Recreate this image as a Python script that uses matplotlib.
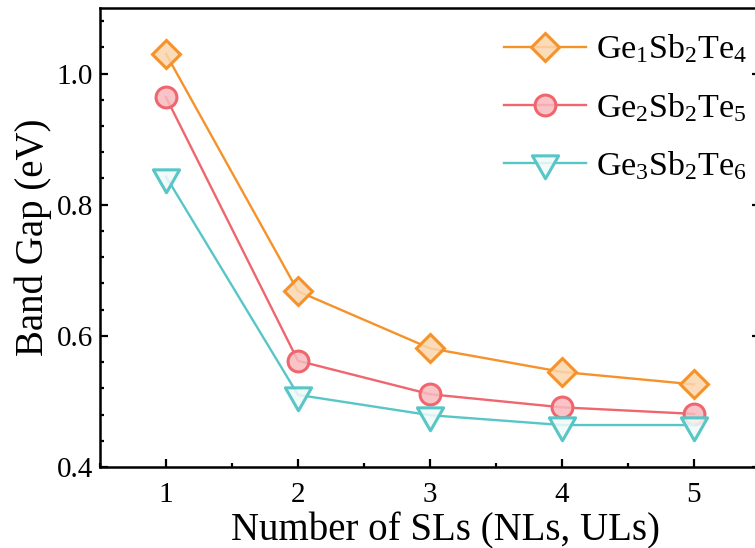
import matplotlib
matplotlib.use("Agg")
import matplotlib.pyplot as plt
from matplotlib.path import Path
from matplotlib.ticker import MultipleLocator
from matplotlib.colors import to_rgb

# Band gap vs. number of stacked layers
layers = [1, 2, 3, 4, 5]
gst124 = [1.03, 0.668, 0.581, 0.545, 0.526]
gst225 = [0.964, 0.562, 0.511, 0.491, 0.481]
gst326 = [0.843, 0.510, 0.479, 0.464, 0.464]

series_labels = [r"Ge$_1$Sb$_2$Te$_4$", r"Ge$_2$Sb$_2$Te$_5$", r"Ge$_3$Sb$_2$Te$_6$"]
x_ticks = [1, 2, 3, 4, 5]
y_ticks = [0.4, 0.6, 0.8, 1.0]

plt.rcParams["font.family"] = ["Liberation Serif", "DejaVu Serif"]
plt.rcParams["mathtext.default"] = "regular"

# down-pointing triangle whose centroid sits on the data point
h = 1.75
tri_down = Path([(-1, h / 3), (1, h / 3), (0, -2 * h / 3), (-1, h / 3)],
                [Path.MOVETO, Path.LINETO, Path.LINETO, Path.CLOSEPOLY])


def face(color, strength, alpha=0.85):
    r, g, b = to_rgb(color)
    return (1 - strength * (1 - r), 1 - strength * (1 - g), 1 - strength * (1 - b), alpha)


orange = "#F5922A"
red = "#F0666E"
cyan = "#58C6C6"

styles = [
    dict(color=orange, marker="D", ms=14.5, mfc=face(orange, 0.38)),
    dict(color=red, marker="o", ms=15, mfc=face(red, 0.45)),
    dict(color=cyan, marker=tri_down, ms=22, mfc=face(cyan, 0.08)),
]

fig = plt.figure(figsize=(7.55, 5.48), dpi=100)
ax = fig.add_axes([100 / 755, 1 - 467 / 548, 660 / 755, 459 / 548])

for vals, lab, st in zip([gst124, gst225, gst326], series_labels, styles):
    ax.plot(layers, vals, color=st["color"], lw=1.7, marker=st["marker"],
            ms=st["ms"], mfc=st["mfc"], mec=st["color"], mew=2.2, label=lab)

ax.set_xlim(0.5, 5.5)
ax.set_ylim(0.4, 1.1)
ax.set_xticks(x_ticks)
ax.set_yticks(y_ticks)
ax.set_yticklabels([f"{v:.1f}" for v in y_ticks])
ax.xaxis.set_minor_locator(MultipleLocator(0.5))
ax.yaxis.set_minor_locator(MultipleLocator(0.04))

for s in ax.spines.values():
    s.set_linewidth(1.8)

ax.tick_params(which="both", direction="in", top=False, right=True, width=1.6)
ax.tick_params(which="major", length=6, labelsize=21)
ax.tick_params(axis="x", which="major", pad=11)
ax.tick_params(axis="y", which="major", pad=5)
ax.tick_params(which="minor", length=3)

ax.set_xlabel("Number of SLs (NLs, ULs)", fontsize=28)
ax.set_ylabel("Band Gap (eV)", fontsize=28)
ax.xaxis.set_label_coords(0.524, -0.098)
ax.yaxis.set_label_coords(-0.072, 0.5)

ax.legend(loc="upper left", bbox_to_anchor=((487 - 100) / 660, 0.983),
          frameon=False, fontsize=24.5, handlelength=2.4, handletextpad=0.3,
          labelspacing=0.75, borderpad=0, numpoints=1)

fig.savefig("out.png", dpi=100)
